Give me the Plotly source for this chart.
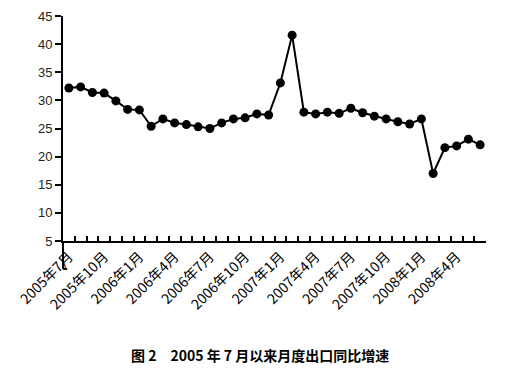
import plotly.graph_objects as go

months = [
    "2005年7月", "2005年8月", "2005年9月", "2005年10月", "2005年11月", "2005年12月",
    "2006年1月", "2006年2月", "2006年3月", "2006年4月", "2006年5月", "2006年6月",
    "2006年7月", "2006年8月", "2006年9月", "2006年10月", "2006年11月", "2006年12月",
    "2007年1月", "2007年2月", "2007年3月", "2007年4月", "2007年5月", "2007年6月",
    "2007年7月", "2007年8月", "2007年9月", "2007年10月", "2007年11月", "2007年12月",
    "2008年1月", "2008年2月", "2008年3月", "2008年4月", "2008年5月", "2008年6月",
]
growth = [
    32.2, 32.4, 31.4, 31.3, 29.9, 28.4,
    28.3, 25.4, 26.7, 26.0, 25.7, 25.3,
    25.0, 26.0, 26.7, 26.9, 27.6, 27.4,
    33.1, 41.6, 27.9, 27.6, 27.9, 27.7,
    28.6, 27.8, 27.2, 26.7, 26.2, 25.8,
    26.7, 17.0, 21.6, 21.9, 23.1, 22.1,
]
shown_labels = ["2005年7月", "2005年10月", "2006年1月", "2006年4月", "2006年7月", "2006年10月",
                "2007年1月", "2007年4月", "2007年7月", "2007年10月", "2008年1月", "2008年4月"]
y_ticks = [5, 10, 15, 20, 25, 30, 35, 40, 45]
caption = "图 2　2005 年 7 月以来月度出口同比增速"

ticktext = [m if m in shown_labels else "" for m in months]

fig = go.Figure()
fig.add_trace(go.Scatter(
    x=months, y=growth, mode="lines+markers",
    line=dict(color="black", width=2),
    marker=dict(color="black", size=9, symbol="circle"),
    showlegend=False, cliponaxis=False,
))

fig.update_layout(
    width=504, height=376,
    margin=dict(l=55, r=26, t=8, b=143, autoexpand=False),
    paper_bgcolor="white", plot_bgcolor="white",
    font=dict(family="Liberation Sans, Arial", color="black"),
    xaxis=dict(
        type="category", range=[-0.5, 35.5], automargin=False,
        tickmode="array", tickvals=months, ticktext=ticktext,
        tickson="boundaries", ticks="inside", ticklen=5, tickwidth=1.5, tickcolor="black",
        showline=True, linecolor="black", linewidth=2,
        showgrid=False, zeroline=False, tickangle=-45,
        tickfont=dict(family="Noto Sans CJK SC", size=14, color="black"),
    ),
    yaxis=dict(
        range=[5, 45], tickmode="array", tickvals=y_ticks, automargin=False,
        ticks="outside", ticklen=6, tickwidth=1.5, tickcolor="black",
        showline=True, linecolor="black", linewidth=2,
        showgrid=False, zeroline=False,
        tickfont=dict(family="Liberation Sans, Arial", size=13, color="#222"),
    ),
    annotations=[dict(
        text=caption, xref="paper", yref="paper", x=0.466, y=-0.507,
        xanchor="center", yanchor="middle", showarrow=False,
        font=dict(family="Noto Sans CJK SC", size=14, color="black", weight="bold"),
    )],
    shapes=[dict(type="line", xref="paper", yref="paper", x0=0, x1=0, y0=0, y1=-0.124,
                 line=dict(color="black", width=2)),
            dict(type="line", xref="paper", yref="paper", x0=0, x1=0.01, y0=-0.124, y1=-0.124,
                 line=dict(color="black", width=2))],
)

fig.write_html("out.html")
